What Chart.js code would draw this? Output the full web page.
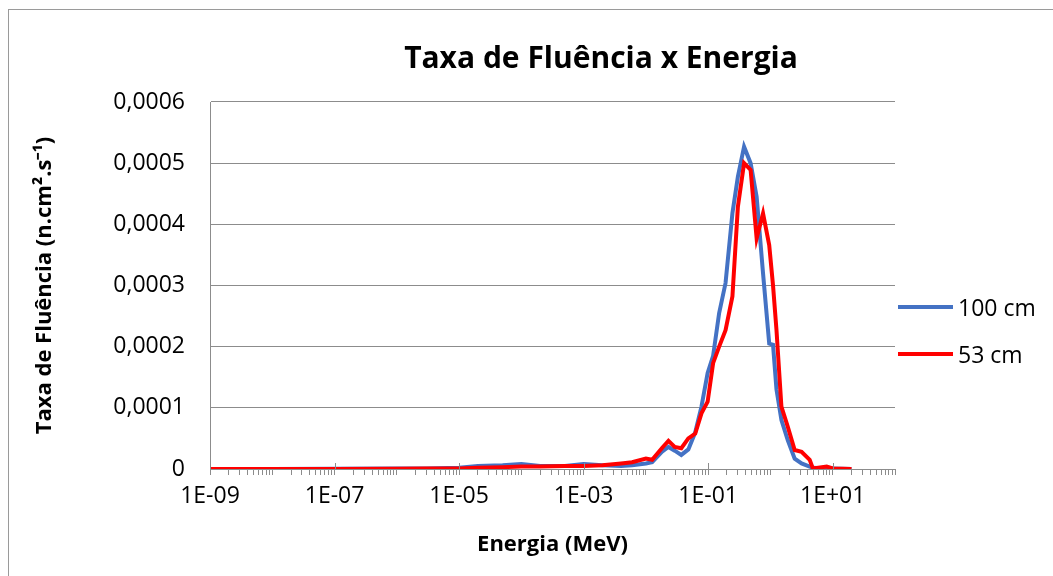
<!DOCTYPE html>
<html>
<head>
<meta charset="utf-8">
<script src="https://cdn.jsdelivr.net/npm/chart.js@4/dist/chart.umd.min.js"></script>
<style>
  html, body { margin: 0; background: #fff; overflow: hidden; }
  #wrap { position: relative; width: 1053px; height: 576px; overflow: hidden; font-family: "Open Sans", sans-serif; }
  #frame { position: absolute; left: 8px; top: 9px; width: 1100px; height: 700px; border-left: 1px solid #9a9a9a; border-top: 1px solid #9a9a9a; }
  #title { position: absolute; left: 0; width: 1202px; top: 38px; text-align: center; font-weight: bold; font-size: 30px; line-height: 38px; color: #000; }
  .leg { position: absolute; left: 898px; font-size: 23px; line-height: 28px; color: #000; display: flex; align-items: center; }
  .leg span.line { display: inline-block; width: 55px; height: 4px; margin-right: 5px; }
  canvas { position: absolute; left: 0; top: 0; }
</style>
</head>
<body>
<div id="wrap">
  <div id="frame"></div>
  <canvas id="c" width="1053" height="576"></canvas>
  <div id="title">Taxa de Fluência x Energia</div>
  <div class="leg" style="top: 293px;"><span class="line" style="background:#4472C4"></span>100 cm</div>
  <div class="leg" style="top: 340px;"><span class="line" style="background:#FF0000"></span>53 cm</div>
</div>
<script>
// energia (MeV)
const energies = [1e-9, 1e-8, 1e-7, 1e-6, 3e-6, 1e-5, 2e-5, 5e-5, 1e-4, 2e-4, 5e-4, 1e-3, 2e-3, 4e-3, 6e-3,
  1e-2, 1.26e-2, 1.8e-2, 2.3e-2, 2.9e-2, 3.7e-2, 4.8e-2, 6.2e-2, 7.8e-2, 9.8e-2, 0.12, 0.15, 0.19, 0.245,
  0.30, 0.377, 0.48, 0.60, 0.76, 0.955, 1.1, 1.25, 1.5, 1.9, 2.45, 3.16, 4.27, 4.8, 8, 10, 20];

// taxa de fluencia (x1e-4)
const fluence100 = [0, 0, 0.005, 0.01, 0.01, 0.02, 0.05, 0.06, 0.08, 0.05, 0.05, 0.08, 0.06, 0.05, 0.06,
  0.09, 0.11, 0.28, 0.36, 0.30, 0.23, 0.32, 0.60, 1.02, 1.57, 1.85, 2.55, 3.04, 4.18,
  4.78, 5.27, 5.0, 4.45, 3.2, 2.05, 2.03, 1.3, 0.8, 0.47, 0.17, 0.09, 0.04, 0.02, 0.01, 0.01, 0];
const fluence53 = [0, 0, 0, 0.005, 0.01, 0.01, 0.02, 0.03, 0.04, 0.04, 0.05, 0.05, 0.06, 0.09, 0.11,
  0.17, 0.15, 0.34, 0.46, 0.36, 0.34, 0.50, 0.58, 0.91, 1.10, 1.73, 2.0, 2.27, 2.82,
  4.29, 5.0, 4.89, 3.77, 4.18, 3.66, 3.0, 2.27, 1.02, 0.69, 0.31, 0.28, 0.15, 0.01, 0.04, 0.01, 0];

const xMajorTicks = [1e-9, 1e-7, 1e-5, 1e-3, 1e-1, 1e1];
const xTickLabels = ['1E-09', '1E-07', '1E-05', '1E-03', '1E-01', '1E+01'];
const yTickLabels = ['0', '0,0001', '0,0002', '0,0003', '0,0004', '0,0005', '0,0006'];

const toPoints = vals => energies.map((e, i) => ({ x: e, y: vals[i] * 1e-4 }));

const gray = '#8c8c8c';

// tracos maiores nos rotulos do eixo x (para cima do eixo)
const majorTickMarks = {
  id: 'majorTickMarks',
  afterDraw(chart) {
    const { ctx, scales: { x, y } } = chart;
    const y0 = y.getPixelForValue(0);
    ctx.save();
    ctx.strokeStyle = gray;
    ctx.lineWidth = 1;
    xMajorTicks.forEach(v => {
      const px = Math.round(x.getPixelForValue(v)) + 0.5;
      ctx.beginPath();
      ctx.moveTo(px, y0 - 6);
      ctx.lineTo(px, y0);
      ctx.stroke();
    });
    ctx.restore();
  }
};

new Chart(document.getElementById('c'), {
  type: 'line',
  data: {
    datasets: [{
      label: '100 cm',
      data: toPoints(fluence100),
      borderColor: '#4472C4',
      backgroundColor: '#4472C4',
      borderWidth: 4,
      pointRadius: 0,
      tension: 0,
      order: 2
    }, {
      label: '53 cm',
      data: toPoints(fluence53),
      borderColor: '#FF0000',
      backgroundColor: '#FF0000',
      borderWidth: 4,
      pointRadius: 0,
      tension: 0,
      order: 1
    }]
  },
  options: {
    responsive: false,
    animation: false,
    events: [],
    layout: { padding: { top: 102, right: 158, bottom: 0, left: 0 } },
    plugins: { legend: { display: false }, title: { display: false }, tooltip: { enabled: false } },
    scales: {
      x: {
        type: 'logarithmic',
        min: 1e-9,
        max: 1e2,
        afterBuildTicks: scale => {
          const ticks = [];
          for (let p = -9; p < 2; p++) {
            for (let k = 1; k < 10; k++) ticks.push({ value: k * Math.pow(10, p) });
          }
          ticks.push({ value: 1e2 });
          scale.ticks = ticks;
        },
        afterFit: scale => { scale.height = 107; },
        ticks: {
          autoSkip: false,
          maxRotation: 0,
          padding: 8,
          color: '#000',
          font: { family: 'Open Sans', size: 23 },
          callback: value => {
            const i = xMajorTicks.findIndex(v => Math.abs(Math.log10(v) - Math.log10(value)) < 1e-6);
            return i >= 0 ? xTickLabels[i] : '';
          }
        },
        grid: { drawOnChartArea: false, tickLength: 6, tickColor: gray },
        border: { color: gray },
        title: {
          display: true,
          text: 'Energia (MeV)',
          color: '#000',
          font: { family: 'Open Sans', size: 22, weight: 'bold' },
          padding: { top: 0, bottom: 18 }
        }
      },
      y: {
        min: 0,
        max: 0.0006,
        afterBuildTicks: scale => {
          scale.ticks = yTickLabels.map((l, i) => ({ value: i * 0.0001 }));
        },
        afterFit: scale => { scale.width = 210; },
        ticks: {
          padding: 25,
          color: '#000',
          font: { family: 'Open Sans', size: 23 },
          callback: (value, index) => yTickLabels[index]
        },
        grid: { color: gray, drawTicks: false },
        border: { color: gray },
        title: {
          display: true,
          text: 'Taxa de Fluência (n.cm².s⁻¹)',
          color: '#000',
          font: { family: 'Open Sans', size: 22, weight: 'bold' },
          padding: { top: 32, bottom: 0 }
        }
      }
    }
  },
  plugins: [majorTickMarks]
});
</script>
</body>
</html>
